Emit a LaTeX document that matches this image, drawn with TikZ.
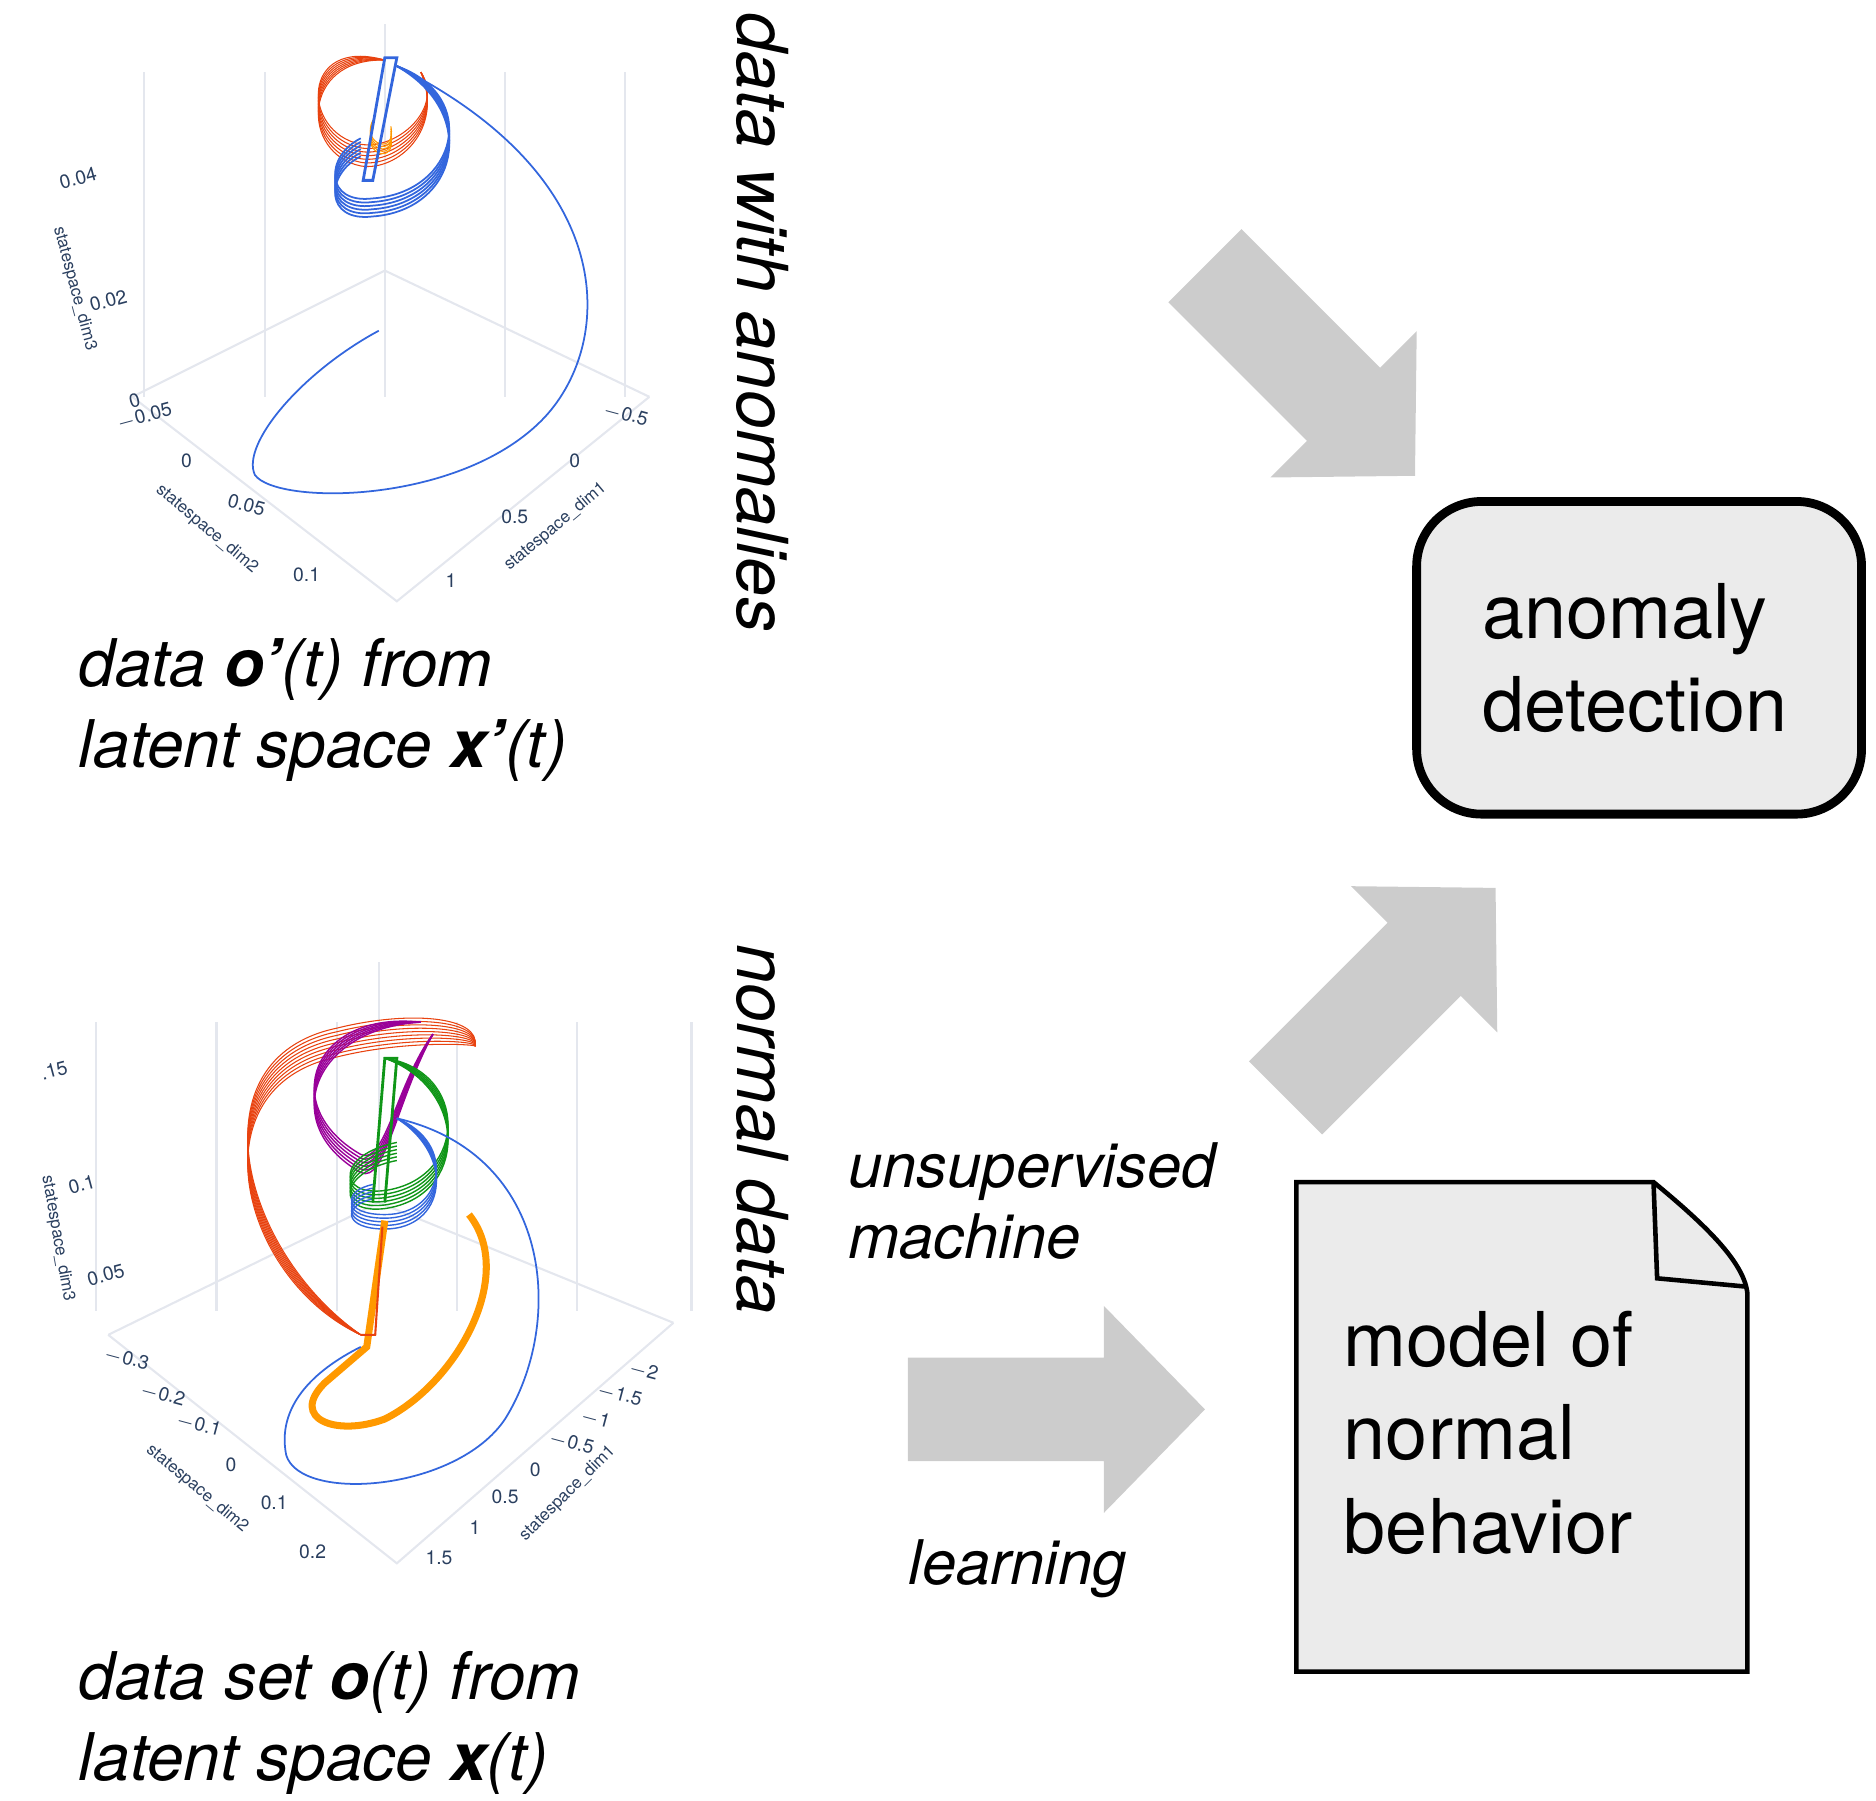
\documentclass[tikz,border=0pt]{standalone}
\usepackage{fontspec}
\setmainfont{TeX Gyre Heros}
\usetikzlibrary{positioning,calc}
\definecolor{arrowgray}{HTML}{CCCCCC}
\definecolor{boxgray}{HTML}{EBEBEB}
\definecolor{tickblue}{HTML}{2A3F5F}
\definecolor{gridgray}{HTML}{E4E7EE}
\definecolor{plotblue}{HTML}{3366DD}
\definecolor{plotred}{HTML}{E8420F}
\definecolor{plotorange}{HTML}{FF9900}
\definecolor{plotgreen}{HTML}{109618}
\definecolor{plotpurple}{HTML}{990099}
\tikzset{
  bigarrow/.pic={\fill[arrowgray] (0,-43) -- (163,-43) -- (163,-86) -- (247,0) -- (163,86) -- (163,43) -- (0,43) -- cycle;},
  caption/.style={font=\fontsize{18.7}{23}\selectfont\itshape, align=left, anchor=north west, inner sep=0},
  side/.style={font=\fontsize{20}{24}\selectfont\itshape, rotate=-90, anchor=south west, inner sep=0},
  tick/.style={font=\fontsize{5.5}{6}\selectfont, text=tickblue, inner sep=0},
  axlabel/.style={font=\fontsize{4.8}{5}\selectfont, text=tickblue, inner sep=0},
  grid3d/.style={gridgray, line width=0.6pt},
}
\begin{document}
\begin{tikzpicture}[x=0.012026cm, y=-0.012026cm]
\useasboundingbox (0,0) rectangle (1560,1497);

% top plot
\foreach \x in {120,220,320,420,520}
    \draw[grid3d] (\x,60) -- (\x,330);
\draw[grid3d] (110,330) -- (320,225) -- (540,330);
\draw[grid3d] (320,225) -- (320,20);
\draw[grid3d] (110,330) -- (330,500) -- (540,330);
\foreach \s in {0,3,...,18}
    \draw[plotred, line width=0.3pt] (320,50) .. controls (250,\s+30) and (250,\s+110) .. (300,\s+120) .. controls (330,\s+125) and (370,\s+90) .. (350,60);
\foreach \s in {0,3,...,15}
    \draw[plotblue, line width=0.5pt] (330,55) .. controls (400,\s+80) and (380,\s+160) .. (310,\s+165) .. controls (270,\s+170) and (270,\s+130) .. (300,\s+115);
\foreach \s in {0,2,...,8}
    \draw[plotorange, line width=0.3pt] (310,\s+100) .. controls (300,\s+120) and (330,\s+130) .. (325,\s+105);
\draw[plotblue, line width=0.8pt] (320,48) -- (330,48) -- (310,150) -- (302,150) -- cycle;
\draw[plotblue, line width=0.5pt] (315,275) .. controls (250,310) and (200,370) .. (212,395)
    .. controls (230,420) and (380,420) .. (450,350) .. controls (510,290) and (520,150) .. (330,55);
\node[tick, rotate=15] (t04) at (65,148) {0.04};
\node[tick, rotate=15] (t02) at (90,250) {0.02};
\node[axlabel, rotate=-75] (d3a) at (62,240) {statespace\_dim3};
\node[tick, rotate=15] (t00) at (112,333) {0};
\node[tick, rotate=15] (tm5) at (120,347) {$-$0.05};
\node[tick] (u0) at (155,383) {0};
\node[tick, rotate=-15] (u05) at (205,420) {0.05};
\node[tick] (u1) at (255,478) {0.1};
\node[axlabel, rotate=-40] (d2a) at (172,440) {statespace\_dim2};
\node[tick, rotate=-15] (v5) at (520,345) {$-$0.5};
\node[tick] (v0) at (478,383) {0};
\node[tick] (v05) at (428,430) {0.5};
\node[tick] (v1) at (375,483) {1};
\node[axlabel, rotate=40] (d1a) at (462,438) {statespace\_dim1};

% bottom plot
\foreach \x in {80,180,280,380,480,575}
    \draw[grid3d] (\x,850) -- (\x,1090);
\draw[grid3d] (90,1110) -- (315,1000) -- (560,1100);
\draw[grid3d] (315,1000) -- (315,800);
\draw[grid3d] (90,1110) -- (330,1300) -- (560,1100);
\foreach \s in {0,3,...,24}
    \draw[plotred, line width=0.3pt] (300,1110) .. controls (200,\s+1040) and (160,\s+880) .. (280,\s+855) .. controls (340,\s+840) and (400,\s+845) .. (395,870);
\foreach \s in {0,3,...,15}
    \draw[plotpurple, line width=0.4pt] (350,850) .. controls (260,\s+840) and (230,\s+920) .. (300,\s+960) .. controls (320,\s+970) and (330,\s+900) .. (360,860);
\foreach \s in {0,3,...,15}
    \draw[plotgreen, line width=0.4pt] (320,880) .. controls (390,\s+890) and (390,\s+980) .. (320,\s+990) .. controls (280,\s+995) and (280,\s+960) .. (330,\s+950);
\foreach \s in {0,3,...,12}
    \draw[plotblue, line width=0.4pt] (330,930) .. controls (380,\s+950) and (370,\s+1010) .. (320,\s+1010) .. controls (285,\s+1010) and (285,\s+990) .. (310,\s+985);
\draw[plotorange, line width=2pt] (390,1010) .. controls (430,1060) and (380,1150) .. (320,1180)
    .. controls (280,1195) and (240,1180) .. (270,1150) -- (305,1120) -- (320,1015);
\draw[plotred, line width=0.6pt] (300,1110) -- (312,1110) -- (318,1020);
\draw[plotgreen, line width=0.8pt] (310,1000) -- (320,880) -- (330,880) -- (320,1000);
\draw[plotblue, line width=0.5pt] (330,930) .. controls (460,960) and (470,1100) .. (420,1180)
    .. controls (380,1240) and (250,1250) .. (238,1210) .. controls (230,1170) and (260,1140) .. (300,1120);
\node[tick, rotate=15] (b15) at (45,890) {.15};
\node[tick, rotate=15] (b1) at (68,985) {0.1};
\node[tick, rotate=15] (b05) at (88,1060) {0.05};
\node[axlabel, rotate=-80] (d3b) at (48,1030) {statespace\_dim3};
\node[tick, rotate=-15] (p3) at (105,1130) {$-$0.3};
\node[tick, rotate=-15] (p2) at (135,1160) {$-$0.2};
\node[tick, rotate=-15] (p1) at (165,1185) {$-$0.1};
\node[tick] (p0) at (192,1218) {0};
\node[tick] (pp1) at (228,1250) {0.1};
\node[tick] (pp2) at (260,1290) {0.2};
\node[axlabel, rotate=-40] (d2b) at (164,1238) {statespace\_dim2};
\node[tick, rotate=-15] (q2) at (535,1140) {$-$2};
\node[tick, rotate=-15] (q15) at (515,1160) {$-$1.5};
\node[tick, rotate=-15] (q1) at (495,1180) {$-$1};
\node[tick, rotate=-15] (q05) at (475,1200) {$-$0.5};
\node[tick] (q0) at (445,1222) {0};
\node[tick] (qq05) at (420,1245) {0.5};
\node[tick] (qq1) at (395,1270) {1};
\node[tick] (qq15) at (365,1295) {1.5};
\node[axlabel, rotate=45] (d1b) at (472,1242) {statespace\_dim1};

% captions
\node[caption] (captop) at (65,530) {data \textbf{o'}(t) from\\latent space \textbf{x'}(t)};
\node[caption] (capbot) at (65,1373) {data set \textbf{o}(t) from\\latent space \textbf{x}(t)};
\node[side] (anom) at (612,10) {data with anomalies};
\node[side] (norm) at (612,785) {normal data};
\node[font=\fontsize{17.5}{20}\selectfont\itshape, align=left, anchor=north west, inner sep=0] (unsup) at (705,950) {unsupervised\\machine};
\node[font=\fontsize{17.5}{20}\selectfont\itshape, anchor=north west, inner sep=0] (learn) at (755,1280) {learning};

% arrows
\pic[rotate=-45] at (1002,221) {bigarrow};
\pic[rotate=45] at (1069,913) {bigarrow};
\pic at (755,1172) {bigarrow};

% boxes
\draw[line width=2.5pt, fill=boxgray, rounded corners=0.65cm] (1178,417) rectangle (1548,677);
\node[font=\fontsize{21.5}{26.5}\selectfont, align=left, anchor=west, inner sep=0] (detect) at (1232,547) {anomaly\\detection};
\draw[line width=1.3pt, fill=boxgray] (1078,983) -- (1375,983) .. controls (1420,1020) and (1450,1050) .. (1453,1075) -- (1453,1390) -- (1078,1390) -- cycle;
\draw[line width=1.3pt] (1375,983) -- (1378,1063) -- (1453,1070);
\node[font=\fontsize{21.5}{26.5}\selectfont, align=left, anchor=north west, inner sep=0] (model) at (1117,1090) {model of\\normal\\behavior};
\end{tikzpicture}
\end{document}
